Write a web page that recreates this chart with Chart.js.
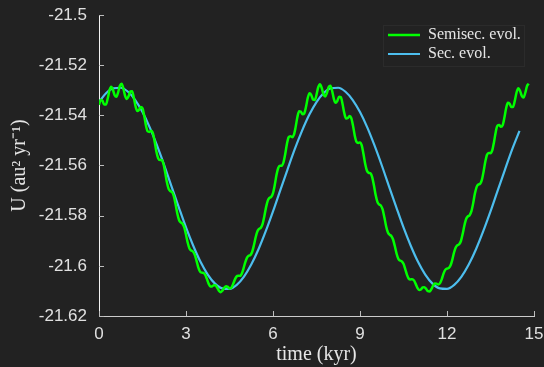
<!DOCTYPE html>
<html>
<head>
<meta charset="utf-8">
<script src="https://cdn.jsdelivr.net/npm/chart.js@4.4.1/dist/chart.umd.min.js"></script>
<style>
  html, body { margin: 0; padding: 0; background: #222222; }
  #wrap { width: 544px; height: 367px; }
</style>
</head>
<body>
<div id="wrap"><canvas id="uChart" width="544" height="367"></canvas></div>
<script>
// time grids (kyr)
const semisecStart = 0;
const semisecStep = 0.06;
const secStart = 0;
const secStep = 0.25;

// U (au^2 yr^-1), semisecular evolution (short-period ripple included)
const semisecU = [
  -21.5358, -21.5338, -21.5342, -21.5357, -21.5357, -21.5333,
  -21.5301, -21.5286, -21.5298, -21.5320, -21.5326, -21.5308,
  -21.5282, -21.5274, -21.5293, -21.5322, -21.5335, -21.5324,
  -21.5305, -21.5304, -21.5329, -21.5364, -21.5383, -21.5378,
  -21.5367, -21.5372, -21.5402, -21.5441, -21.5464, -21.5466,
  -21.5461, -21.5472, -21.5505, -21.5545, -21.5571, -21.5578,
  -21.5578, -21.5592, -21.5626, -21.5666, -21.5693, -21.5702,
  -21.5706, -21.5722, -21.5754, -21.5791, -21.5817, -21.5827,
  -21.5832, -21.5847, -21.5876, -21.5908, -21.5931, -21.5939,
  -21.5943, -21.5955, -21.5978, -21.6005, -21.6022, -21.6027,
  -21.6028, -21.6035, -21.6052, -21.6071, -21.6082, -21.6082,
  -21.6077, -21.6078, -21.6088, -21.6100, -21.6105, -21.6098,
  -21.6087, -21.6081, -21.6084, -21.6090, -21.6088, -21.6074,
  -21.6056, -21.6043, -21.6040, -21.6040, -21.6032, -21.6012,
  -21.5987, -21.5968, -21.5960, -21.5957, -21.5945, -21.5919,
  -21.5887, -21.5863, -21.5853, -21.5848, -21.5834, -21.5803,
  -21.5767, -21.5740, -21.5729, -21.5725, -21.5710, -21.5678,
  -21.5638, -21.5610, -21.5601, -21.5601, -21.5588, -21.5555,
  -21.5514, -21.5487, -21.5483, -21.5487, -21.5478, -21.5447,
  -21.5408, -21.5384, -21.5385, -21.5396, -21.5392, -21.5365,
  -21.5330, -21.5312, -21.5319, -21.5337, -21.5339, -21.5318,
  -21.5288, -21.5276, -21.5291, -21.5316, -21.5325, -21.5310,
  -21.5287, -21.5282, -21.5303, -21.5335, -21.5350, -21.5342,
  -21.5326, -21.5328, -21.5356, -21.5392, -21.5413, -21.5411,
  -21.5403, -21.5411, -21.5442, -21.5481, -21.5506, -21.5510,
  -21.5508, -21.5520, -21.5554, -21.5594, -21.5621, -21.5629,
  -21.5631, -21.5646, -21.5679, -21.5718, -21.5745, -21.5755,
  -21.5760, -21.5775, -21.5806, -21.5842, -21.5866, -21.5876,
  -21.5881, -21.5895, -21.5921, -21.5951, -21.5972, -21.5979,
  -21.5982, -21.5992, -21.6013, -21.6036, -21.6051, -21.6054,
  -21.6053, -21.6058, -21.6072, -21.6088, -21.6096, -21.6094,
  -21.6086, -21.6085, -21.6092, -21.6101, -21.6102, -21.6093,
  -21.6079, -21.6070, -21.6071, -21.6074, -21.6069, -21.6053,
  -21.6031, -21.6016, -21.6011, -21.6009, -21.5999, -21.5977,
  -21.5948, -21.5927, -21.5918, -21.5914, -21.5901, -21.5873,
  -21.5839, -21.5813, -21.5803, -21.5798, -21.5783, -21.5752,
  -21.5713, -21.5686, -21.5676, -21.5673, -21.5658, -21.5625,
  -21.5585, -21.5557, -21.5550, -21.5551, -21.5540, -21.5507,
  -21.5467, -21.5441, -21.5439, -21.5446, -21.5439, -21.5409,
  -21.5371, -21.5350, -21.5354, -21.5367, -21.5366, -21.5341,
  -21.5308, -21.5292, -21.5303, -21.5323, -21.5329, -21.5310,
  -21.5283, -21.5274
];

// U (au^2 yr^-1), secular evolution
const secU = [
  -21.5347, -21.5311, -21.5292, -21.5290, -21.5306, -21.5339,
  -21.5387, -21.5448, -21.5520, -21.5599, -21.5683, -21.5766,
  -21.5847, -21.5920, -21.5984, -21.6035, -21.6071, -21.6090,
  -21.6092, -21.6076, -21.6043, -21.5995, -21.5934, -21.5862,
  -21.5783, -21.5699, -21.5616, -21.5535, -21.5462, -21.5398,
  -21.5347, -21.5311, -21.5292, -21.5290, -21.5306, -21.5339,
  -21.5387, -21.5448, -21.5520, -21.5599, -21.5683, -21.5766,
  -21.5847, -21.5920, -21.5984, -21.6035, -21.6071, -21.6090,
  -21.6092, -21.6076, -21.6043, -21.5995, -21.5934, -21.5862,
  -21.5783, -21.5699, -21.5616, -21.5535, -21.5462
];

const seriesLabels = ['Semisec. evol.', 'Sec. evol.'];
const seriesColors = ['#00ff00', '#4dbeee'];
const xTicks = [0, 3, 6, 9, 12, 15];
const yTicks = [-21.62, -21.6, -21.58, -21.56, -21.54, -21.52, -21.5];
const yTickLabels = ['-21.62', '-21.6', '-21.58', '-21.56', '-21.54', '-21.52', '-21.5'];

const toPoints = (vals, t0, dt) => vals.map((u, i) => ({ x: t0 + i * dt, y: u }));

// inward tick marks, legend placement in the upper right corner, legend frame
const axisDecor = {
  id: 'axisDecor',
  afterLayout(chart) {
    const lg = chart.legend, area = chart.chartArea;
    if (!lg) return;
    const w = lg.width, h = lg.height;
    lg.left = area.right - 149;
    lg.right = lg.left + w;
    lg.top = area.top + 9;
    lg.bottom = lg.top + h;
  },
  afterDraw(chart) {
    const ctx = chart.ctx, xs = chart.scales.x, ys = chart.scales.y, area = chart.chartArea;
    ctx.save();
    ctx.strokeStyle = '#bdbdbd';
    ctx.lineWidth = 1;
    ctx.beginPath();
    yTicks.forEach(v => {
      const py = Math.round(ys.getPixelForValue(v)) + 0.5;
      ctx.moveTo(area.left, py);
      ctx.lineTo(area.left + 5, py);
    });
    xTicks.forEach(v => {
      const px = Math.round(xs.getPixelForValue(v)) + 0.5;
      ctx.moveTo(px, area.bottom);
      ctx.lineTo(px, area.bottom - 5);
    });
    ctx.stroke();
    const lg = chart.legend;
    ctx.strokeStyle = '#2b2b2b';
    ctx.strokeRect(Math.round(lg.left) - 1.5, Math.round(lg.top) + 1.5, 141, 41);
    ctx.restore();
  }
};

const ctx = document.getElementById('uChart');

new Chart(ctx.getContext('2d'), {
  type: 'line',
  data: {
    datasets: [{
      label: seriesLabels[0],
      data: toPoints(semisecU, semisecStart, semisecStep),
      borderColor: seriesColors[0],
      backgroundColor: seriesColors[0],
      borderWidth: 2.5,
      pointRadius: 0,
      cubicInterpolationMode: 'monotone',
      fill: false
    }, {
      label: seriesLabels[1],
      data: toPoints(secU, secStart, secStep),
      borderColor: seriesColors[1],
      backgroundColor: seriesColors[1],
      borderWidth: 2.2,
      pointRadius: 0,
      cubicInterpolationMode: 'monotone',
      fill: false
    }]
  },
  options: {
    responsive: false,
    animation: false,
    devicePixelRatio: 1,
    layout: { padding: { left: 0, right: 10, top: 15, bottom: 0 } },
    plugins: {
      tooltip: { enabled: false },
      legend: {
        position: 'chartArea',
        align: 'start',
        labels: {
          usePointStyle: true,
          pointStyle: 'line',
          pointStyleWidth: 32,
          padding: 3,
          color: '#e6e6e6',
          font: { family: 'Liberation Serif', size: 16 }
        }
      }
    },
    scales: {
      x: {
        type: 'linear',
        min: 0,
        max: 15,
        afterFit: (s) => { s.height = 51; s.paddingLeft = 0; s.paddingRight = 0; },
        afterBuildTicks: (s) => { s.ticks = xTicks.map(v => ({ value: v })); },
        grid: { display: false, drawTicks: false },
        border: { display: true, color: '#cccccc', width: 1 },
        ticks: {
          padding: 8,
          color: '#e0e0e0',
          font: { family: 'Liberation Sans', size: 17 },
          maxRotation: 0,
          callback: (v) => String(v)
        },
        title: {
          display: true,
          text: 'time (kyr)',
          color: '#e6e6e6',
          font: { family: 'Liberation Serif', size: 20 },
          padding: { top: 0, bottom: 0 }
        }
      },
      y: {
        type: 'linear',
        min: -21.62,
        max: -21.5,
        afterFit: (s) => { s.width = 99; s.paddingTop = 0; s.paddingBottom = 0; },
        afterBuildTicks: (s) => { s.ticks = yTicks.map(v => ({ value: v })); },
        grid: { display: false, drawTicks: false },
        border: { display: true, color: '#f2f2f2', width: 1 },
        ticks: {
          padding: 12,
          color: '#e0e0e0',
          font: { family: 'Liberation Sans', size: 17 },
          callback: (v, i) => yTickLabels[i]
        },
        title: {
          display: true,
          text: 'U (au² yr⁻¹)',
          color: '#e6e6e6',
          font: { family: 'Liberation Serif', size: 20 },
          padding: { top: 8, bottom: 0 }
        }
      }
    }
  },
  plugins: [axisDecor]
});
</script>
</body>
</html>
